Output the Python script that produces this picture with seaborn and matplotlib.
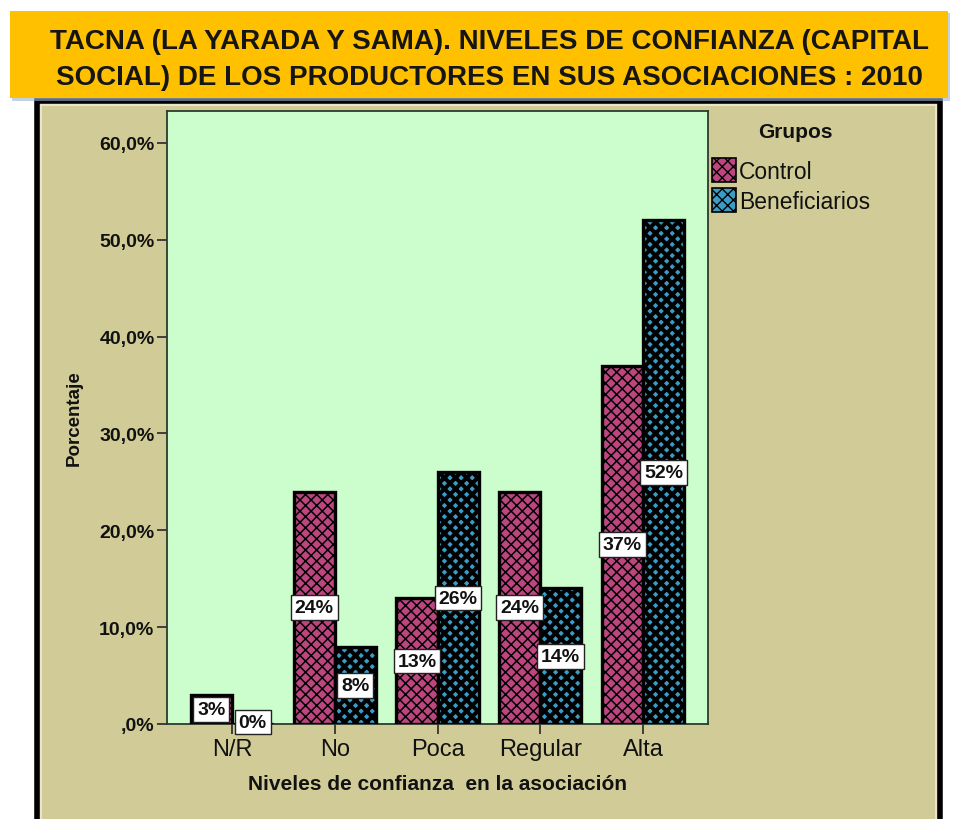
import matplotlib
matplotlib.use("Agg")
import matplotlib.pyplot as plt
from matplotlib.patches import Rectangle, Patch
from matplotlib.ticker import FuncFormatter
import pandas as pd
import seaborn as sns

# Survey data (percent of producers in each group)
niveles = ["N/R", "No", "Poca", "Regular", "Alta"]
control = [3, 24, 13, 24, 37]
beneficiarios = [0, 8, 26, 14, 52]
grupos = ["Control", "Beneficiarios"]
yticks = [0, 10, 20, 30, 40, 50, 60]

titulo = ("TACNA (LA YARADA Y SAMA). NIVELES DE CONFIANZA (CAPITAL\n"
          "SOCIAL) DE LOS PRODUCTORES EN SUS ASOCIACIONES : 2010")

df = pd.DataFrame({
    "Nivel": niveles * 2,
    "Grupo": [grupos[0]] * len(niveles) + [grupos[1]] * len(niveles),
    "Porcentaje": control + beneficiarios,
})

sns.set_theme(style="white")
plt.rcParams["font.family"] = ["Liberation Sans", "DejaVu Sans"]

KHAKI = "#D1CC97"
GREEN = "#CCFDCC"
colores = {"Control": "#BE4680", "Beneficiarios": "#3B9CC6"}
hatch_lw = {"Control": 1.1, "Beneficiarios": 2.9}

fig = plt.figure(figsize=(9.58, 8.2), dpi=100, facecolor="white")

# framed chart panel
fig.patches.append(Rectangle((37 / 958, -0.05), 903 / 958, (820 - 102) / 820 + 0.05,
                             transform=fig.transFigure, facecolor=KHAKI,
                             edgecolor="black", linewidth=4, zorder=-3))
fig.patches.append(Rectangle((41 / 958, -0.05), 895 / 958, (820 - 106) / 820 + 0.05,
                             transform=fig.transFigure, facecolor="none",
                             edgecolor="#EEEBD6", linewidth=1.2, zorder=-2))

# title banner
fig.patches.append(Rectangle((12 / 958, (820 - 102) / 820), 938 / 958, 88 / 820,
                             transform=fig.transFigure, facecolor="#9DB3D0",
                             edgecolor="none", zorder=1, alpha=0.6))
fig.patches.append(Rectangle((10 / 958, (820 - 99) / 820), 938 / 958, 87 / 820,
                             transform=fig.transFigure, facecolor="#FFC000",
                             edgecolor="none", zorder=2))
fig.text(489 / 958, (820 - 60) / 820, titulo, ha="center", va="center",
         fontsize=20, fontweight="bold", color="#151515", linespacing=1.5,
         zorder=3)

ax = fig.add_axes([167 / 958, 95 / 820, 541 / 958, 613 / 820])
ax.set_zorder(4)
ax.set_facecolor(GREEN)

sns.barplot(data=df, x="Nivel", y="Porcentaje", hue="Grupo", order=niveles,
            hue_order=grupos, palette=colores, width=0.8, gap=0,
            saturation=1, legend=False, ax=ax, zorder=3)

for grupo, cont in zip(grupos, ax.containers):
    for bar in cont:
        bar.set_edgecolor("black")
        bar.set_linewidth(2.4)
        bar.set_hatch("xxx")
        if hasattr(bar, "set_hatch_linewidth"):
            bar.set_hatch_linewidth(hatch_lw[grupo])
    for bar, val in zip(cont, cont.datavalues):
        ax.text(bar.get_x() + bar.get_width() / 2, max(val / 2, 0.2), f"{val:.0f}%",
                ha="center", va="center", fontsize=14, fontweight="bold",
                color="#111111", zorder=5,
                bbox=dict(boxstyle="square,pad=0.2", facecolor="white",
                          edgecolor="#222222", linewidth=1.0))

ax.set_xlim(-0.633, 4.633)
ax.set_ylim(0, 63.3)
ax.set_yticks(yticks)


def fmt(v, _pos):
    s = f"{v:.1f}%".replace(".", ",")
    return s[1:] if s.startswith("0,") else s


ax.yaxis.set_major_formatter(FuncFormatter(fmt))
ax.tick_params(axis="y", labelsize=14, length=7, width=1.3, color="#333333",
               left=True, pad=2)
ax.tick_params(axis="x", labelsize=17, length=7, width=1.3, color="#333333",
               bottom=True, pad=3)
for lab in ax.get_yticklabels():
    lab.set_fontweight("bold")
    lab.set_color("#111111")
for lab in ax.get_xticklabels():
    lab.set_color("#111111")

for side in ["left", "bottom", "top", "right"]:
    ax.spines[side].set_visible(True)
    ax.spines[side].set_color("#2F3A2F")
    ax.spines[side].set_linewidth(1.3)

ax.set_xlabel("Niveles de confianza  en la asociación", fontsize=15,
              fontweight="bold", color="#111111", labelpad=10)
ax.set_ylabel("Porcentaje", fontsize=13.5, fontweight="bold", color="#111111",
              labelpad=12)

# legend: title drawn as its own text, entries below it
fig.text(795 / 958, (820 - 133) / 820, "Grupos", ha="center", va="center",
         fontsize=15, fontweight="bold", color="#111111")
handles = []
for grupo in grupos:
    p = Patch(facecolor=colores[grupo], edgecolor="black", hatch="xxx",
              linewidth=1.2, label=grupo)
    handles.append(p)
leg = fig.legend(handles=handles, loc="upper left",
                 bbox_to_anchor=(712 / 958, (820 - 159) / 820), frameon=False,
                 fontsize=16.5, handlelength=1.05, handleheight=1.25,
                 handletextpad=0.12, labelspacing=0.22, borderaxespad=0,
                 borderpad=0)
for t in leg.get_texts():
    t.set_color("#111111")

fig.savefig("out.png", dpi=100, facecolor="white")
